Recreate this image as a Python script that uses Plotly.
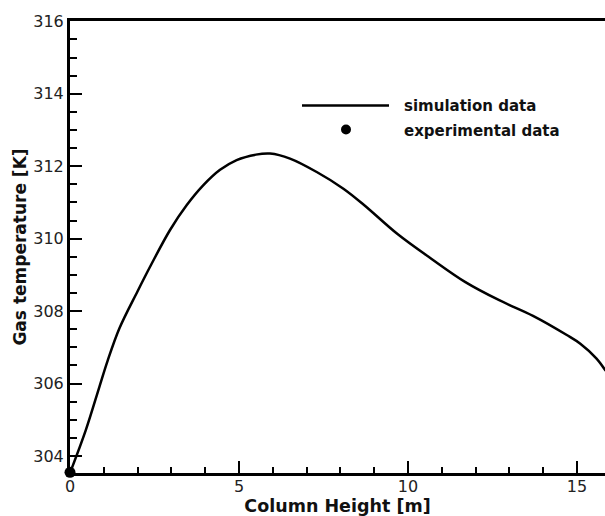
import plotly.graph_objects as go

# Simulation curve
height_m = [0, 0.47, 0.87, 1.11, 1.46, 2.0, 2.4, 2.96, 3.45, 3.94, 4.44, 4.93,
            5.5, 5.92, 6.51, 7.3, 8.09, 8.7, 9.7, 10.7, 11.7, 12.7, 13.7, 14.7,
            15.1, 15.58, 15.85]
gas_temp_K = [303.53, 304.72, 305.91, 306.62, 307.52, 308.55, 309.28, 310.24,
              310.92, 311.47, 311.9, 312.17, 312.32, 312.35, 312.21, 311.84,
              311.38, 310.93, 310.12, 309.44, 308.8, 308.3, 307.87, 307.34,
              307.1, 306.69, 306.35]

# Experimental data
exp_height_m = [0]
exp_temp_K = [303.55]

legend_labels = ["simulation data", "experimental data"]

W, H = 605, 516
L, R, T, B = 70, 0, 21, 43
PW, PH = W - L - R, H - T - B

def px2paper_x(px):
    return (px - L) / PW

def px2paper_y(py):
    return (H - B - py) / PH

fig = go.Figure()
fig.add_trace(go.Scatter(x=height_m, y=gas_temp_K, mode="lines",
                         line=dict(color="black", width=2.5, shape="spline", smoothing=1.0),
                         showlegend=False))
fig.add_trace(go.Scatter(x=exp_height_m, y=exp_temp_K, mode="markers",
                         marker=dict(color="black", size=11), cliponaxis=False,
                         showlegend=False))

# custom legend (paper coordinates)
fig.add_shape(type="line", xref="paper", yref="paper",
              x0=px2paper_x(302), x1=px2paper_x(389), y0=px2paper_y(105.5), y1=px2paper_y(105.5),
              line=dict(color="black", width=2.5))
fig.add_shape(type="circle", xref="paper", yref="paper",
              x0=px2paper_x(341), x1=px2paper_x(351), y0=px2paper_y(124.5), y1=px2paper_y(134.5),
              fillcolor="black", line=dict(color="black", width=0))
for i, lab in enumerate(legend_labels):
    fig.add_annotation(text="<b>%s</b>" % lab, xref="paper", yref="paper",
                       x=px2paper_x(402), y=px2paper_y(106 + 24.5 * i),
                       xanchor="left", yanchor="middle", showarrow=False,
                       font=dict(family="DejaVu Sans", size=15, color="#111"))

fig.update_layout(
    width=W, height=H,
    margin=dict(l=L, r=R, t=T, b=B, autoexpand=False),
    plot_bgcolor="white", paper_bgcolor="white",
    font=dict(family="DejaVu Sans", size=16, color="#222"),
)
fig.update_xaxes(
    range=[0, 15.83], showgrid=False, zeroline=False,
    showline=True, linecolor="black", linewidth=3, mirror=True,
    tick0=0, dtick=5, ticks="inside", ticklen=12, tickwidth=2, tickcolor="black",
    minor=dict(dtick=1, ticks="inside", ticklen=6, tickwidth=1.5, tickcolor="black"),
    title=dict(text="<b>Column Height [m]</b>", font=dict(size=17.5, color="#111"), standoff=0),
    tickfont=dict(size=16), automargin=False, ticklabelstandoff=-3,
)
fig.update_yaxes(
    range=[303.53, 316.01], showgrid=False, zeroline=False,
    showline=True, linecolor="black", linewidth=3,
    tick0=304, dtick=2, ticks="inside", ticklen=12, tickwidth=2, tickcolor="black",
    minor=dict(dtick=0.5, ticks="inside", ticklen=7, tickwidth=1.5, tickcolor="black"),
    title=dict(text="<b>Gas temperature [K]</b>", font=dict(size=17, color="#111"), standoff=3),
    tickfont=dict(size=16), automargin=False,
)

fig.write_html("out.html", config={"displayModeBar": False},
               post_script="document.body.style.margin='0';")
